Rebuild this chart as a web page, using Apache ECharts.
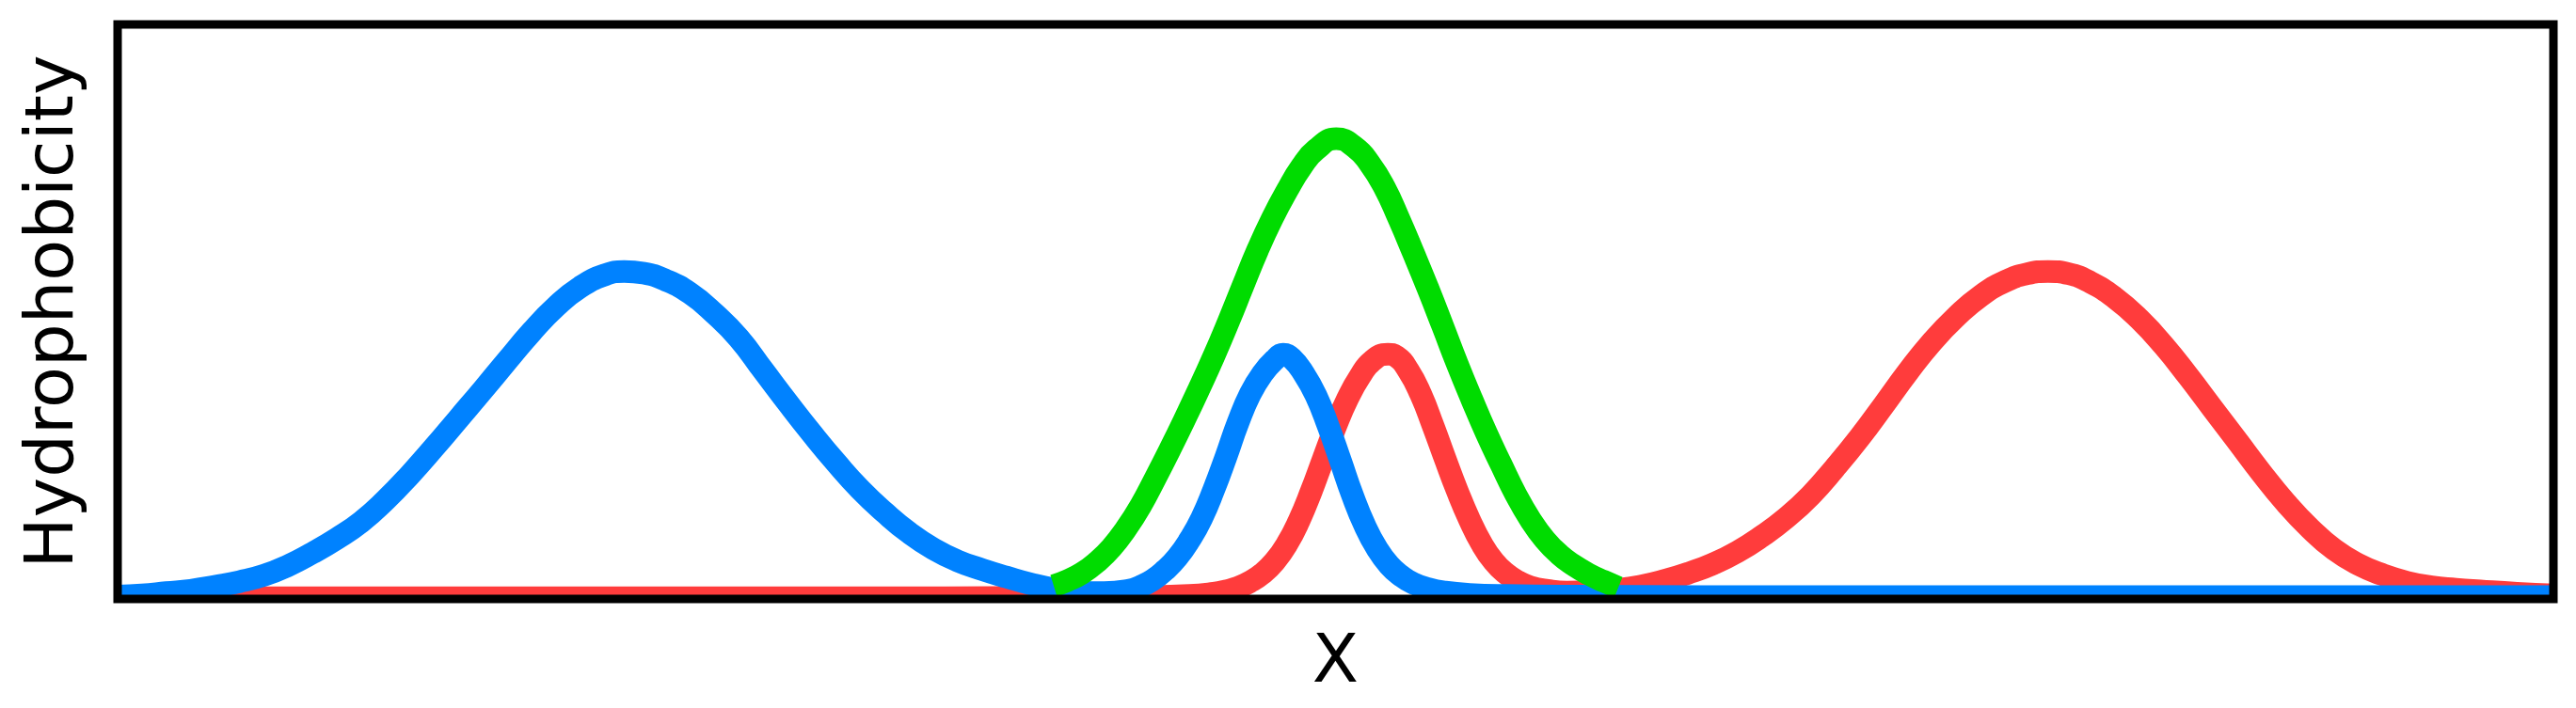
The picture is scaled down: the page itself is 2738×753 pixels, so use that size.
<!DOCTYPE html>
<html>
<head>
<meta charset="utf-8">
<script src="https://cdn.jsdelivr.net/npm/echarts@6/dist/echarts.min.js"></script>
<style>
  html, body { margin: 0; padding: 0; background: #ffffff; }
  #chart { width: 2738px; height: 753px; }
</style>
</head>
<body>
<div id="chart"></div>
<script>
// Position along X (0-100) and hydrophobicity value (0-100 scale)
const blueCurve = [
  [0, 0.3], [1, 0.5], [2, 0.9], [3, 1.3], [4, 2.0], [5, 2.8], [6, 3.9], [7, 5.6],
  [8, 7.8], [9, 10.3], [10, 13.2], [11, 17.0], [12, 21.4], [13, 26.2], [14, 31.2],
  [15, 36.2], [16, 41.3], [17, 46.3], [18, 50.7], [19, 54.1], [20, 56.2], [20.8, 56.8],
  [21.6, 56.5], [22.5, 55.3], [23.5, 53.0], [24.5, 49.5], [25.5, 45.2], [26.5, 39.6],
  [27.5, 34.0], [28.5, 28.6], [29.5, 23.5], [30.5, 18.8], [31.5, 14.8], [32.5, 11.3],
  [33.5, 8.5], [34.5, 6.4], [35.5, 4.9], [36.5, 3.6], [37.5, 2.4], [38.5, 1.5],
  [39.5, 1.0], [40.5, 0.9], [41.5, 1.3], [42.0, 2.0], [42.5, 3.1], [43.0, 4.8],
  [43.5, 7.0], [44.0, 10.0], [44.5, 13.8], [45.0, 18.8], [45.5, 24.5], [46.0, 30.5],
  [46.5, 35.5], [47.0, 39.0], [47.5, 41.4], [47.85, 42.4], [48.2, 41.7], [48.7, 39.0],
  [49.2, 35.2], [49.7, 29.9], [50.2, 23.9], [50.7, 17.8], [51.2, 12.6], [51.7, 8.6],
  [52.2, 5.7], [52.7, 3.8], [53.2, 2.5], [53.8, 1.6], [54.5, 1.0], [55.5, 0.6],
  [57, 0.4], [60, 0.3], [70, 0.2], [80, 0.2], [90, 0.2], [100, 0.2]
];
const redCurve = [
  [0, 0], [10, 0], [20, 0], [30, 0], [38, 0.1], [42, 0.2], [44, 0.4], [45, 0.8],
  [45.5, 1.2], [46.0, 1.8], [46.5, 2.8], [47.0, 4.2], [47.5, 6.3], [48.0, 9.3],
  [48.5, 13.4], [49.0, 18.5], [49.5, 24.2], [50.0, 29.8], [50.5, 34.7], [51.0, 38.5],
  [51.5, 41.2], [52.15, 42.4], [52.5, 42.0], [53.0, 39.5], [53.5, 35.4], [54.0, 30.0],
  [54.5, 24.2], [55.0, 18.6], [55.5, 13.6], [56.0, 9.4], [56.5, 6.3], [57.0, 4.2],
  [57.5, 2.8], [58.0, 1.9], [58.7, 1.3], [59.5, 1.0], [60.5, 1.1], [61.5, 1.4],
  [62.5, 2.0], [63.5, 3.0], [64.5, 4.3], [65.5, 5.9], [66.5, 8.0], [67.5, 10.7],
  [68.5, 13.9], [69.5, 17.8], [70.5, 22.6], [71.5, 27.8], [72.5, 33.5], [73.5, 39.3],
  [74.5, 44.6], [75.5, 49.0], [76.5, 52.6], [77.5, 55.1], [78.4, 56.4], [79.25, 56.8],
  [80.1, 56.4], [81.0, 54.9], [82.0, 52.2], [83.0, 48.5], [84.0, 43.9], [85.0, 38.6],
  [86.0, 33.0], [87.0, 27.4], [88.0, 21.8], [89.0, 16.6], [90.0, 12.1], [91.0, 8.4],
  [92.0, 5.8], [93.0, 4.0], [94.0, 2.7], [95.0, 1.9], [96.0, 1.5], [97.0, 1.2],
  [98.5, 0.8], [100, 0.5]
];
const greenCurve = [
  [38.43, 2.1], [39.0, 3.0], [39.6, 4.3], [40.2, 6.2], [40.8, 8.7], [41.4, 12.0],
  [42.0, 16.0], [42.6, 20.8], [43.2, 25.8], [43.8, 31.0], [44.4, 36.4], [45.0, 42.0],
  [45.6, 48.0], [46.2, 54.3], [46.8, 60.5], [47.4, 66.0], [48.0, 70.8], [48.6, 75.0],
  [49.2, 78.0], [50.03, 79.9], [50.8, 78.4], [51.4, 75.6], [52.0, 71.5], [52.6, 66.0],
  [53.2, 60.0], [53.8, 53.8], [54.4, 47.3], [55.0, 40.7], [55.6, 34.5], [56.2, 28.6],
  [56.8, 23.2], [57.4, 18.0], [58.0, 13.6], [58.6, 10.1], [59.2, 7.5], [59.8, 5.6],
  [60.4, 4.1], [61.0, 2.9], [61.61, 1.8]
];
const xAxisName = 'X';
const yAxisName = 'Hydrophobicity';

const COLORS = { red: '#FF3C3C', blue: '#0082FF', green: '#00DC00' };
const LINE_W = 24;
const FONT = '"DejaVu Sans", Verdana, sans-serif';

const chart = echarts.init(document.getElementById('chart'), null, { renderer: 'canvas' });

function lineSeries(name, data, color) {
  return {
    name: name,
    type: 'line',
    data: data,
    xAxisIndex: 0,
    yAxisIndex: 0,
    smooth: 0.5,
    symbol: 'none',
    showSymbol: false,
    lineStyle: { color: color, width: LINE_W, cap: 'butt', join: 'round' },
    z: 2
  };
}

chart.setOption({
  backgroundColor: '#ffffff',
  animation: false,
  grid: {
    left: 125, right: 24, top: 26, bottom: 116,
    show: true,
    backgroundColor: 'transparent',
    borderColor: '#000000',
    borderWidth: 9,
    z: 10
  },
  xAxis: [
    {
      type: 'value', min: 0, max: 100,
      name: xAxisName, nameLocation: 'middle', nameGap: 33,
      nameTextStyle: { fontFamily: FONT, fontSize: 72, color: '#000000' },
      axisLine: { show: false }, axisTick: { show: false },
      axisLabel: { show: false }, splitLine: { show: false }
    },
    {
      type: 'value', min: 0, max: 100, position: 'bottom', offset: 10, z: 9,
      axisLine: { show: true, lineStyle: { color: '#ffffff', width: 14 } },
      axisTick: { show: false }, axisLabel: { show: false }, splitLine: { show: false }
    }
  ],
  yAxis: {
    type: 'value', min: -0.2, max: 99.8,
    name: yAxisName, nameLocation: 'middle', nameGap: 31,
    nameTextStyle: { fontFamily: FONT, fontSize: 72, color: '#000000' },
    axisLine: { show: false }, axisTick: { show: false },
    axisLabel: { show: false }, splitLine: { show: false }
  },
  series: [
    lineSeries('red', redCurve, COLORS.red),
    lineSeries('blue', blueCurve, COLORS.blue),
    lineSeries('green', greenCurve, COLORS.green)
  ]
});
</script>
</body>
</html>
